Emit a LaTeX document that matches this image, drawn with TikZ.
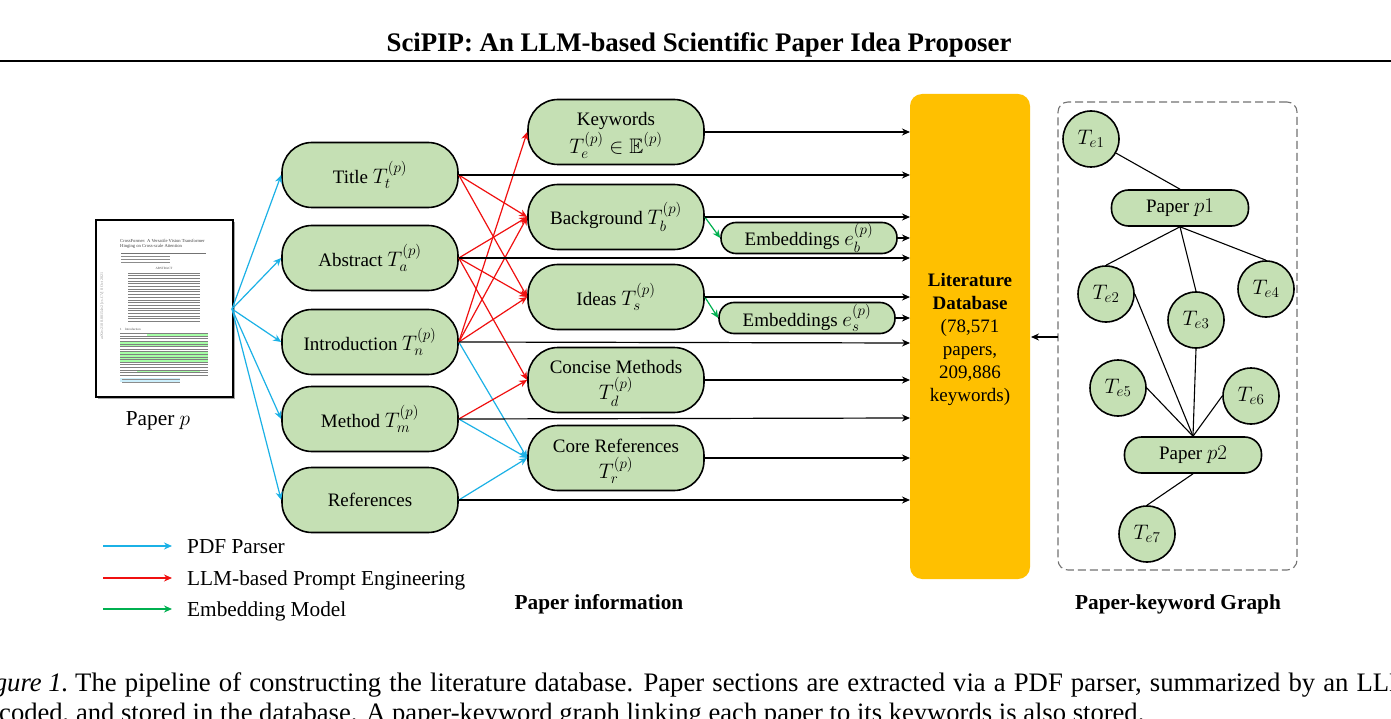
\RequirePackage{fix-cm}
\documentclass[tikz,border=0pt]{standalone}
\usepackage{amsmath,amssymb}
\usepackage{fontspec}
\setmainfont{Liberation Serif}
\usetikzlibrary{arrows.meta}
\DeclareMathSizes{19}{21}{15}{11}
\definecolor{nodegreen}{HTML}{C5E0B4}
\definecolor{dbyellow}{HTML}{FFC000}
\definecolor{pblue}{HTML}{1BB1E6}
\definecolor{pred}{HTML}{F01010}
\definecolor{pgreen}{HTML}{00B050}
\newcommand{\dnb}[1]{\raisebox{-3.5pt}{#1}}
\newcommand{\dnk}[1]{\raisebox{-2pt}{#1}}
\newcommand{\tpr}{\rule{0pt}{20pt}}
\newcommand{\Tpx}[2]{#1_{#2}^{\raisebox{2.5pt}{$\scriptstyle(p)$}}}
\tikzset{
  x=1pt,y=-1pt,
  lbl/.style={font=\fontsize{21.3}{25}\selectfont},
  pill/.style={draw=black,line width=1.6pt,fill=nodegreen,rounded corners=24pt,inner sep=0pt,align=center,font=\fontsize{19}{25}\selectfont},
  sec/.style={pill,minimum width=176pt,minimum height=65pt,rounded corners=30pt},
  emb/.style={pill,minimum width=176pt,minimum height=31pt,rounded corners=15pt},
  pap/.style={pill,minimum width=137pt,minimum height=36pt,rounded corners=17pt},
  kw/.style={circle,draw=black,line width=1.6pt,fill=nodegreen,minimum size=56pt,inner sep=0pt,font=\fontsize{19}{24}\selectfont},
  tip/.style={-{Stealth[length=8pt,width=7pt]}},
  bluea/.style={tip,draw=pblue,line width=1.2pt},
  reda/.style={tip,draw=pred,line width=1.2pt},
  greena/.style={tip,draw=pgreen,line width=1.2pt},
  blacka/.style={tip,draw=black,line width=1.2pt},
  link/.style={draw=black,line width=1.1pt},
  head/.style={font=\bfseries\fontsize{21.3}{25}\selectfont},
}
\begin{document}
\begin{tikzpicture}
\useasboundingbox (0,0) rectangle (1391,719);
\begin{scope}
\clip (0,0) rectangle (1391,719);
\fill[white] (0,0) rectangle (1391,719);
% page header
\node[font=\bfseries\fontsize{26.8}{30}\selectfont] (hd) at (699,45) {SciPIP: An LLM-based Scientific Paper Idea Proposer};
\coordinate (rl) at (0,61); \coordinate (rr) at (1391,61);
\draw[line width=2.6pt] (rl) -- (rr);
% thumbnail
\fill[black!35] (98,222) rectangle (235,399);
\node[draw=black,line width=2pt,fill=white,minimum width=137pt,minimum height=177pt,inner sep=0pt] (thumb) at (164.5,308.5) {};
\node[rotate=90,text=black!40,font=\fontsize{4.1}{5}\selectfont] (arx) at (102,306) {arXiv:2108.00154v2 [cs.CV] 8 Oct 2021};
\node[anchor=north west,inner sep=0pt,text=black!75,align=left,font=\fontsize{4.6}{5.2}\selectfont] (ttl) at (120,239) {\textsc{CrossFormer: A Versatile Vision Transformer}\\\textsc{Hinging on Cross-scale Attention}};
\draw[black!55,line width=.7pt] (121,253) -- (206,253);
\foreach \y in {256,259,262} \draw[black!45,line width=.7pt] (121,\y) -- (170,\y);
\node[text=black!70,font=\fontsize{3.2}{4}\selectfont,inner sep=0pt] (absh) at (164,268) {ABSTRACT};
\foreach \y in {273,275.7,...,324} \draw[black!50,line width=.9pt] (128,\y) -- (200,\y);
\node[anchor=west,text=black!70,font=\fontsize{3.2}{4}\selectfont,inner sep=0pt] (inth) at (120,329) {1\quad Introduction};
\fill[green!35!white] (147,333) rectangle (208,337);
\fill[green!35!white] (120,342) rectangle (208,347);
\fill[green!35!white] (120,352) rectangle (208,363);
\fill[green!35!white] (137,370) rectangle (200,373);
\foreach \y in {333.5,336.1,...,377} \draw[black!50,line width=.8pt] (120,\y) -- (208,\y);
\fill[cyan!20] (120,378) rectangle (180,382);
\foreach \y in {379.5,382.5} \draw[black!45,line width=.6pt] (122,\y) -- (180,\y);
\node[lbl] (plab) at (158,421) {Paper $p$};
\coordinate (src) at (232,309);
% left column
\node[sec] (title) at (370,175) {\dnb{Title $\Tpx{T}{t}$}};
\node[sec] (abs) at (370,258) {\dnb{Abstract $\Tpx{T}{a}$}};
\node[sec] (intro) at (370,342) {\dnb{Introduction $\Tpx{T}{n}$}};
\node[sec] (meth) at (370,419) {\dnb{Method $\Tpx{T}{m}$}};
\node[sec] (refs) at (370,500) {\dnb{References}};
% middle column
\node[sec] (keyw) at (616,132) {\tpr Keywords\\[1pt]$\Tpx{T}{e}\in\mathbb{E}^{\raisebox{2.5pt}{$\scriptstyle(p)$}}$};
\node[sec] (bg) at (616,217) {\dnb{Background $\Tpx{T}{b}$}};
\node[sec] (idea) at (616,297) {\dnb{Ideas $\Tpx{T}{s}$}};
\node[sec] (conc) at (616,380) {\tpr Concise Methods\\[1pt]$\Tpx{T}{d}$};
\node[sec] (core) at (616,458) {\tpr Core References\\[1pt]$\Tpx{T}{r}$};
\node[emb] (embb) at (809,238) {Embeddings $\Tpx{e}{b}$};
\node[emb] (embs) at (807,318) {Embeddings $\Tpx{e}{s}$};
% database
\node[fill=dbyellow,rounded corners=12pt,minimum width=120pt,minimum height=485pt,inner sep=0pt,font=\fontsize{19}{23}\selectfont] (db) at (970,336.5) {};
\node[align=center,inner sep=0pt,font=\fontsize{19}{23}\selectfont] (dbt) at (970,339) {\textbf{Literature}\\\textbf{Database}\\(78,571\\papers,\\209,886\\keywords)};
% anchor points on the database edge
\foreach \n/\y in {keyw/132,title/175,bg/217,abs/258,idea/297,intro/343,conc/380,meth/418,core/458,refs/500,embb/238,embs/318}
  \coordinate (d\n) at (910,\y);
% blue arrows
\foreach \t in {title,abs,intro,meth,refs} \draw[bluea] (src) -- (\t.west);
\draw[bluea] (intro.east) -- (core.west);
\draw[bluea] (meth.east) -- (core.west);
\draw[bluea] (refs.east) -- (core.west);
% red arrows
\draw[reda] (title.east) -- (bg.west);
\draw[reda] (title.east) -- (idea.west);
\draw[reda] (abs.east) -- (bg.west);
\draw[reda] (abs.east) -- (idea.west);
\draw[reda] (abs.east) -- (conc.west);
\draw[reda] (intro.east) -- (keyw.west);
\draw[reda] (intro.east) -- (bg.west);
\draw[reda] (intro.east) -- (idea.west);
\draw[reda] (meth.east) -- (conc.west);
% green arrows
\draw[greena] (bg.east) -- (embb.west);
\draw[greena] (idea.east) -- (embs.west);
% black arrows
\foreach \n in {keyw,title,bg,abs,idea,intro,conc,meth,core,refs} \draw[blacka] (\n.east) -- (d\n);
\draw[blacka] (embb.east) -- (dembb);
\draw[blacka] (embs.east) -- (dembs);
% graph
\node[draw=black!55,dashed,dash pattern=on 8pt off 4pt,line width=1.1pt,rounded corners=10pt,minimum width=239pt,minimum height=468pt,inner sep=0pt] (gbox) at (1177.5,336) {};
\coordinate (dbin) at (1031,337); \coordinate (gout) at (1058,337);
\draw[blacka] (gout) -- (dbin);
\node[kw] (e1) at (1091,139) {\dnk{$T_{e1}$}};
\node[kw] (e2) at (1106,294) {\dnk{$T_{e2}$}};
\node[kw] (e3) at (1196,320) {\dnk{$T_{e3}$}};
\node[kw] (e4) at (1266,289) {\dnk{$T_{e4}$}};
\node[kw] (e5) at (1118,388) {\dnk{$T_{e5}$}};
\node[kw] (e6) at (1251,396) {\dnk{$T_{e6}$}};
\node[kw] (e7) at (1147,534) {\dnk{$T_{e7}$}};
\node[pap] (p1) at (1180,208) {\dnk{Paper $p1$}};
\node[pap] (p2) at (1193,455) {\dnk{Paper $p2$}};
\draw[link] (e1) -- (p1.north);
\draw[link] (p1.south) -- (e2.north);
\draw[link] (p1.south) -- (e3.north);
\draw[link] (p1.south) -- (e4.north);
\draw[link] (e2.east) -- (p2.north);
\draw[link] (e3.south) -- (p2.north);
\draw[link] (e5.east) -- (p2.north);
\draw[link] (e6.west) -- (p2.north);
\draw[link] (p2.south) -- (e7.north);
% legend
\coordinate (la) at (103,546); \coordinate (lb) at (172,546);
\coordinate (lc) at (103,578); \coordinate (ld) at (172,578);
\coordinate (le) at (103,609); \coordinate (lf) at (172,609);
\draw[bluea] (la) -- (lb);
\draw[reda] (lc) -- (ld);
\draw[greena] (le) -- (lf);
\node[lbl,anchor=west,inner sep=0pt] (l1) at (187,547) {PDF Parser};
\node[lbl,anchor=west,inner sep=0pt] (l2) at (187,580.5) {LLM-based Prompt Engineering};
\node[lbl,anchor=west,inner sep=0pt] (l3) at (187,611) {Embedding Model};
\node[head] (pi) at (599,604.5) {Paper information};
\node[head] (pk) at (1178,604.5) {Paper-keyword Graph};
% caption
\node[anchor=base west,inner sep=0pt,font=\fontsize{26.7}{30}\selectfont] (c1) at (75,691) {\llap{\textit{Figure 1.}\ }\spaceskip=8.1pt The pipeline of constructing the literature database. Paper sections are extracted via a PDF parser, summarized by an LLM,};
\node[anchor=base west,inner sep=0pt,font=\fontsize{26.6}{30}\selectfont] (c2) at (-1,721) {\llap{en}coded, and stored in the database. A paper-keyword graph linking each paper to its keywords is also stored.};
\end{scope}
\end{tikzpicture}
\end{document}
